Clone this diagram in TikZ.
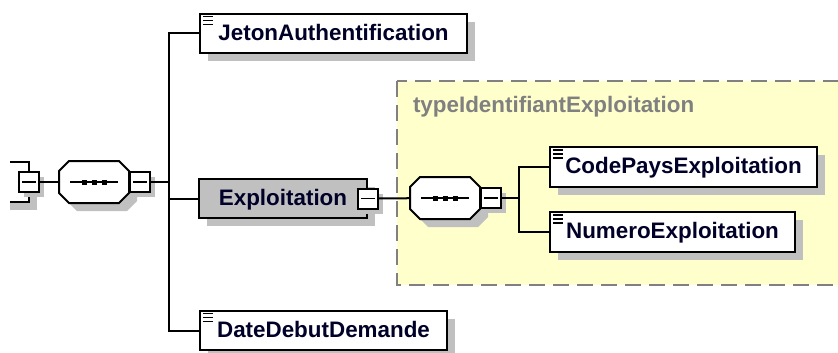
\documentclass[tikz,border=0pt]{standalone}
\usepackage{fontspec}
\setmainfont{Liberation Sans}
\usetikzlibrary{calc,shadows}

\definecolor{shadowgray}{RGB}{192,192,192}
\definecolor{typeyellow}{RGB}{255,255,204}
\definecolor{typegray}{RGB}{128,128,128}
\definecolor{elemtext}{RGB}{0,0,40}
\newcommand{\elemfont}{\bfseries\fontsize{16.8}{20}\selectfont}
% octagon of a sequence, drawn round an empty node
\newcommand{\seqglyph}[1]{%
  \draw [fill=white,elemshadow] ($(#1.north west)+(0,10)$) -- ($(#1.north west)+(10,0)$) -- ($(#1.north east)+(-10,0)$) -- ($(#1.north east)+(0,10)$) -- ($(#1.south east)+(0,-10)$) -- ($(#1.south east)+(-10,0)$) -- ($(#1.south west)+(10,0)$) -- ($(#1.south west)+(0,-10)$) -- cycle;
  \draw [line width=1.1pt] ($(#1.center)+(-24,0)$) -- ($(#1.center)+(24,0)$);
  \foreach \d in {-10,0,10}
    \fill ($(#1.center)+(\d,0)$) +(-2.5,-2.5) rectangle +(2.5,2.5);}

\tikzset{every picture/.style={line width=1.5pt}}
\tikzset{
  elemshadow/.style={drop shadow={shadow xshift=6pt,shadow yshift=-6pt,opacity=1,fill=shadowgray}},
  elem/.style={draw,fill=white,elemshadow,anchor=west,minimum height=29.5pt,inner sep=0pt,
    text height=11pt,text depth=1.2pt,font=\elemfont,text=elemtext},
  simple/.style={elem,path picture={
    \foreach \k in {1,2,3}
      \draw[line width=1.1pt] ([xshift=2.2pt,yshift=-\k*3pt+0.9pt]path picture bounding box.north west) -- ++(7.5pt,0pt);}},
  minus/.style={draw,fill=white,drop shadow={shadow xshift=4pt,shadow yshift=-4pt,opacity=1,fill=shadowgray},
    minimum size=15pt,inner sep=0pt,path picture={
    \draw[line width=1.1pt] ([xshift=-5pt]path picture bounding box.center) -- ([xshift=5pt]path picture bounding box.center);}},
  seqbox/.style={minimum width=51pt,minimum height=30pt,inner sep=0pt}
}

\begin{document}
\begin{tikzpicture}[x=0.75pt,y=0.75pt,yscale=-1,xscale=1]
\useasboundingbox (0,0) rectangle (838,353);

%Shape: Rectangle (type area)
\draw [color=typegray,fill=typeyellow,dash pattern={on 12pt off 6pt}] (397,81) rectangle (870,285);
% Text Node
\node [anchor=base west,inner sep=0pt,font=\elemfont,text=typegray] (typetitle) at (412,113) {typeIdentifiantExploitation};

%Shape: parent element (cut at the left)
\fill [shadowgray] (10,172) rectangle (37,210);
\fill [white] (10,160) rectangle (29,202);
\draw (10,162) -| (29,202) -- (10,202);
\node [minus] (m0) at (29,182) {};

%Shape: sequence
\node [seqbox] (seq0) at (94,182) {};
\seqglyph{seq0}
\node [minus,anchor=west] (m1) at (seq0.east) {};
\coordinate (fork0) at (169,182);

% Text Node
\node [simple,minimum width=200.25pt] (jeton) at (199,33.5) {JetonAuthentification};
% Text Node
\node [elem,fill=shadowgray,minimum width=126pt,inner xsep=0pt] (exploit) at (198,198.5) {Exploitation\hspace{4.5pt}};
\node [minus] (m2) at (exploit.east) {};
% Text Node
\node [simple,minimum width=185.25pt] (datedebut) at (199,330.5) {DateDebutDemande};

%Shape: sequence
\node [seqbox] (seq1) at (445,198) {};
\seqglyph{seq1}
\node [minus,anchor=west] (m3) at (seq1.east) {};
\coordinate (fork1) at (519,198);

% Text Node
\node [simple,minimum width=200.25pt] (codepays) at (549,167) {CodePaysExploitation};
% Text Node
\node [simple,minimum width=183.75pt] (numero) at (549,232) {NumeroExploitation};

%Straight Lines
\draw (m0) -- (seq0);
\draw (m1) -- (fork0);
\draw (jeton.west) -| (fork0) |- (datedebut.west);
\draw (fork0 |- exploit.west) -- (exploit.west);
\draw (m2) -- (seq1);
\draw (m3) -- (fork1);
\draw (codepays.west) -| (fork1) |- (numero.west);
\end{tikzpicture}
\end{document}
